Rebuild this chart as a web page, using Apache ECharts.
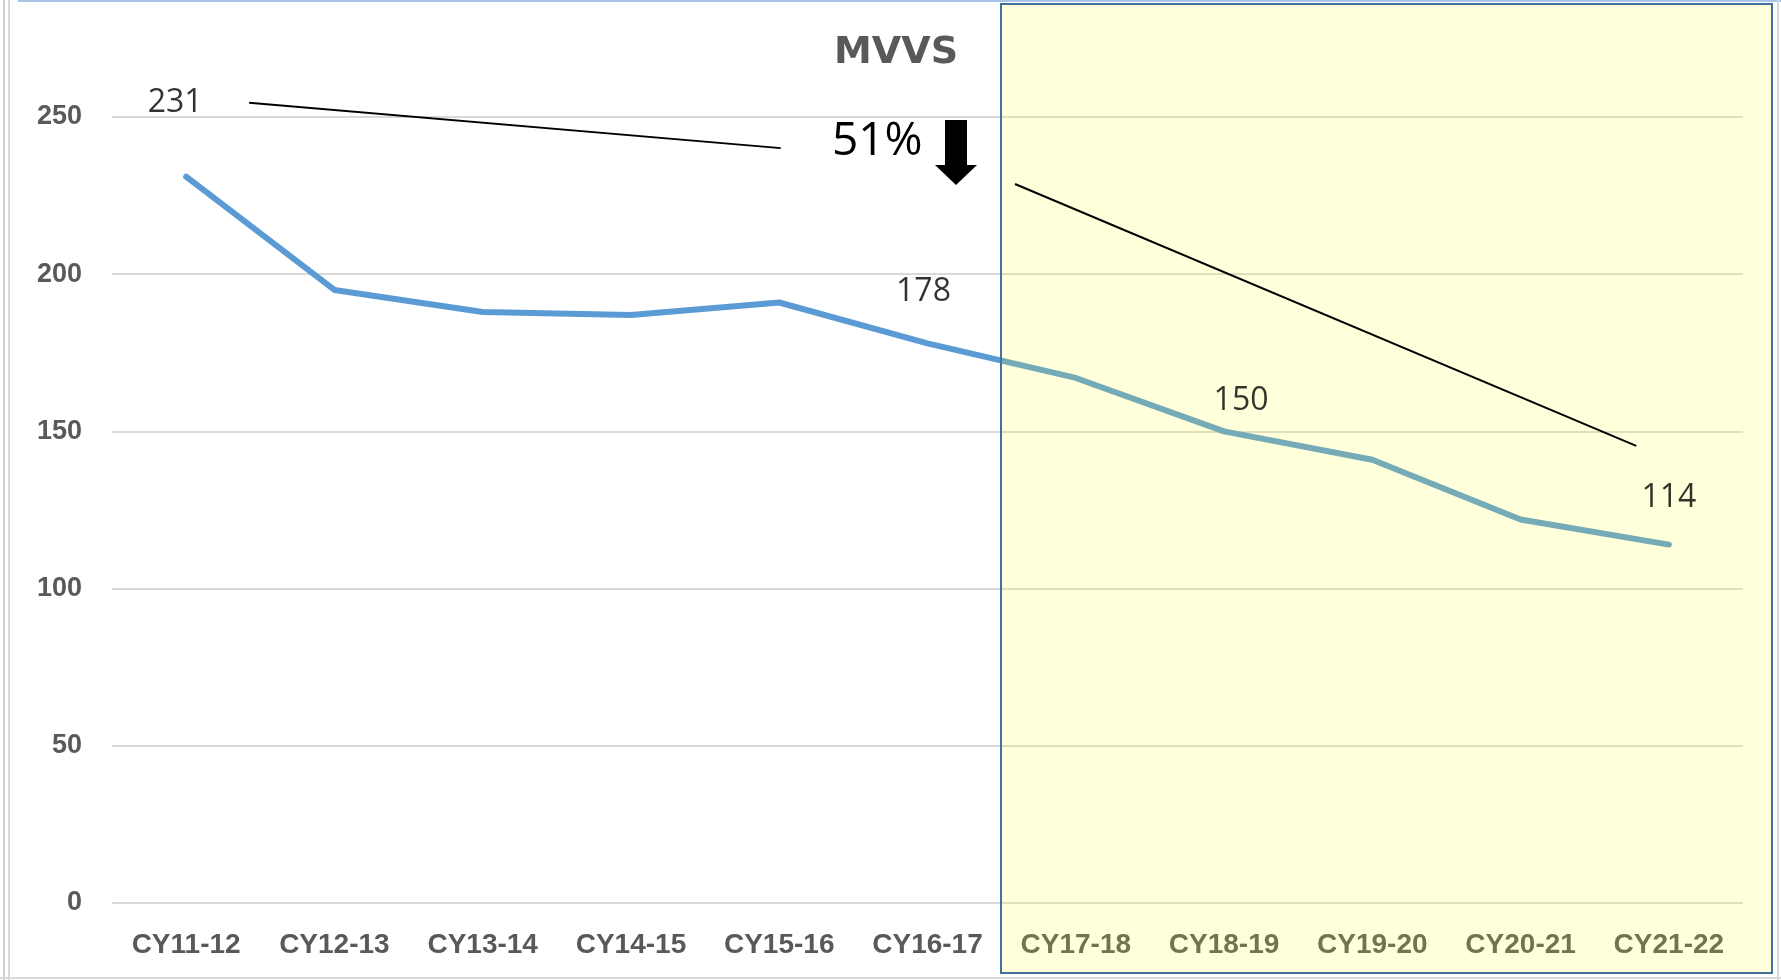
<!DOCTYPE html>
<html>
<head>
<meta charset="utf-8">
<style>
  html, body { margin: 0; padding: 0; background: #ffffff; }
  #chart { width: 1781px; height: 980px; }
</style>
<script src="https://cdn.jsdelivr.net/npm/echarts@6/dist/echarts.min.js"></script>
</head>
<body>
<div id="chart"></div>
<script>
// ---- data ----
const categories = ['CY11-12', 'CY12-13', 'CY13-14', 'CY14-15', 'CY15-16', 'CY16-17',
                    'CY17-18', 'CY18-19', 'CY19-20', 'CY20-21', 'CY21-22'];
const mvvs = [231, 195, 188, 187, 191, 178, 167, 150, 141, 122, 114];
const labelledIndices = [0, 5, 7, 10];
const yTicks = [0, 50, 100, 150, 200, 250];
// hand-drawn trend annotations, in (category index, value) units
const trendA = [[0.425, 254.5], [4.01, 240.1]];
const trendB = [[5.59, 228.7], [9.78, 145.4]];
const titleText = 'MVVS';
const changeText = '51%';

// ---- styles ----
const labelOffsets = { 0: [-11, -74], 5: [-4, -51], 7: [17, -31], 10: [0, -47] };

const chart = echarts.init(document.getElementById('chart'), null, { renderer: 'canvas' });

const labelData = mvvs.map((v, i) => {
  if (labelledIndices.indexOf(i) < 0) return { value: v, label: { show: false } };
  return { value: v, label: { show: true, offset: labelOffsets[i] } };
});

const option = {
  backgroundColor: '#ffffff',
  animation: false,
  grid: { left: 112, right: 38, top: 117, bottom: 77, containLabel: false },
  xAxis: [
    {
      type: 'category',
      data: categories,
      boundaryGap: true,
      axisLine: { show: false },
      axisTick: { show: false },
      axisLabel: {
        color: '#595959',
        fontFamily: 'Liberation Sans',
        fontWeight: 'bold',
        fontSize: 28,
        margin: 28
      },
      splitLine: { show: false }
    },
    {
      type: 'value',
      min: -0.5,
      max: 10.5,
      show: false,
      splitLine: { show: false }
    }
  ],
  yAxis: {
    type: 'value',
    min: yTicks[0],
    max: yTicks[yTicks.length - 1],
    interval: 50,
    axisLine: { show: false },
    axisTick: { show: false },
    axisLabel: {
      color: '#595959',
      fontFamily: 'Liberation Sans',
      fontWeight: 'bold',
      fontSize: 27,
      margin: 30
    },
    splitLine: { lineStyle: { color: '#D9D9D9', width: 2 } }
  },
  series: [
    {
      name: 'MVVS',
      type: 'line',
      data: mvvs,
      symbol: 'none',
      z: 2,
      lineStyle: { color: '#5B9BD5', width: 6, cap: 'round', join: 'round' }
    },
    {
      name: 'labels',
      type: 'scatter',
      data: labelData,
      symbolSize: 1,
      itemStyle: { color: 'rgba(0,0,0,0)' },
      z: 200,
      label: {
        position: 'inside',
        color: '#000000',
        fontFamily: 'Open Sans',
        fontSize: 32,
        formatter: p => String(p.value)
      },
      silent: true
    },
    {
      name: 'trendA',
      type: 'line',
      xAxisIndex: 1,
      data: trendA,
      symbol: 'none',
      clip: false,
      z: 200,
      lineStyle: { color: '#000000', width: 2 }
    },
    {
      name: 'trendB',
      type: 'line',
      xAxisIndex: 1,
      data: trendB,
      symbol: 'none',
      clip: false,
      z: 200,
      lineStyle: { color: '#000000', width: 2 }
    }
  ],
  graphic: [
    // screenshot frame
    { type: 'line', z: 300, shape: { x1: 4, y1: 0, x2: 4, y2: 980 }, style: { stroke: '#D0D0D0', lineWidth: 2 } },
    { type: 'line', z: 300, shape: { x1: 9, y1: 0, x2: 9, y2: 980 }, style: { stroke: '#D9D9D9', lineWidth: 2 } },
    { type: 'line', z: 300, shape: { x1: 18, y1: 1, x2: 1781, y2: 1 }, style: { stroke: '#A9C4E8', lineWidth: 2 } },
    { type: 'line', z: 300, shape: { x1: 0, y1: 978, x2: 1781, y2: 978 }, style: { stroke: '#D9D9D9', lineWidth: 2 } },
    { type: 'line', z: 300, shape: { x1: 1778, y1: 0, x2: 1778, y2: 980 }, style: { stroke: '#D9D9D9', lineWidth: 2 } },
    // highlighted forecast region overlay
    {
      type: 'rect', z: 100,
      shape: { x: 1001, y: 4, width: 771, height: 969 },
      style: { fill: 'rgba(255,255,30,0.16)', stroke: '#41719C', lineWidth: 2 }
    },
    // title
    {
      type: 'text', z: 300, x: 896, y: 53,
      style: {
        text: titleText, fill: '#595959',
        font: 'bold 38px "DejaVu Sans"',
        textAlign: 'center', textVerticalAlign: 'middle'
      }
    },
    // percent change
    {
      type: 'text', z: 300, x: 832, y: 142,
      style: {
        text: changeText, fill: '#000000',
        font: '46px "Open Sans"',
        textAlign: 'left', textVerticalAlign: 'middle'
      }
    },
    // down arrow
    {
      type: 'polygon', z: 300,
      shape: { points: [[945, 120], [967, 120], [967, 165], [977, 165], [956, 185], [935, 165], [945, 165]] },
      style: { fill: '#000000' }
    }
  ]
};

chart.setOption(option);
</script>
</body>
</html>
